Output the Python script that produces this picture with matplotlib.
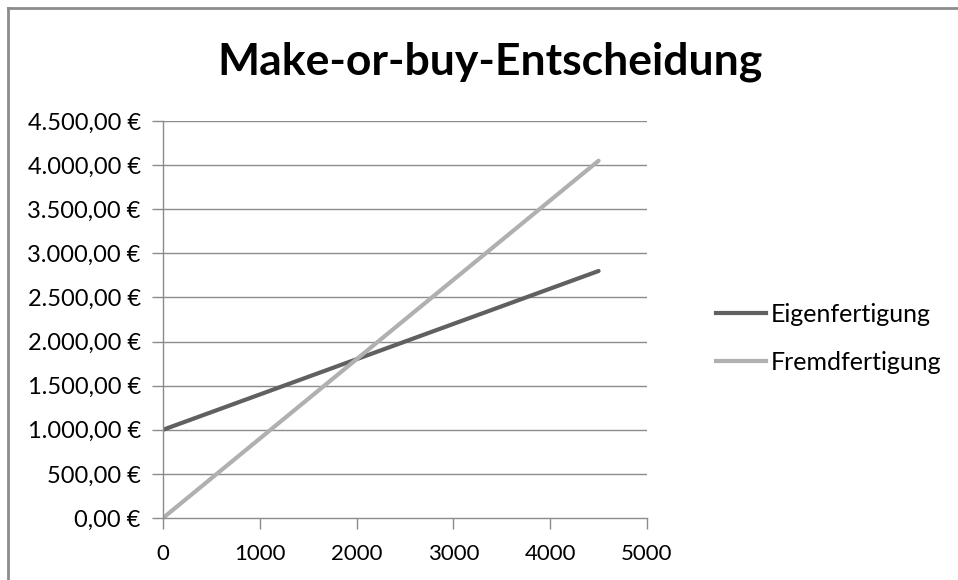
import matplotlib
matplotlib.use('Agg')
import matplotlib.pyplot as plt
from matplotlib.ticker import FuncFormatter
from matplotlib.lines import Line2D

# data: Menge vs. Kosten
menge = [0, 4500]
eigenfertigung = [1000, 2800]
fremdfertigung = [0, 4050]
y_ticks = [0, 500, 1000, 1500, 2000, 2500, 3000, 3500, 4000, 4500]
x_ticks = [0, 1000, 2000, 3000, 4000, 5000]

plt.rcParams['font.family'] = ['Lato', 'DejaVu Sans']


def euro(v, pos=None):
    s = '{:,.2f}'.format(v)
    s = s.replace(',', 'X').replace('.', ',').replace('X', '.')
    return s + ' €'


fig = plt.figure(figsize=(9.58, 5.8), dpi=100)
ax = fig.add_axes([163 / 958, 62 / 580, 484 / 958, 397 / 580])

ax.plot(menge, eigenfertigung, color='#606060', lw=3.0, label='Eigenfertigung', solid_capstyle='round')
ax.plot(menge, fremdfertigung, color='#b0b0b0', lw=3.0, label='Fremdfertigung', solid_capstyle='round')

ax.set_xlim(0, 5000)
ax.set_ylim(0, 4500)
ax.set_xticks(x_ticks)
ax.set_yticks(y_ticks)
ax.yaxis.set_major_formatter(FuncFormatter(euro))

for y in y_ticks[1:]:
    ax.axhline(y, color='#8c8c8c', lw=1, zorder=0)

for side in ['top', 'right']:
    ax.spines[side].set_visible(False)
for side in ['left', 'bottom']:
    ax.spines[side].set_color('#8c8c8c')
    ax.spines[side].set_linewidth(1)

ax.tick_params(axis='both', colors='#8c8c8c', length=8, width=1, labelcolor='black')
ax.tick_params(axis='y', pad=8, labelsize=17)
ax.tick_params(axis='x', pad=11, labelsize=16)

fig.text(490 / 958, 1 - 62 / 580, 'Make-or-buy-Entscheidung', ha='center', va='center',
         fontsize=32, fontweight='bold')

handles = [Line2D([0], [0], color='#606060', lw=3.0),
           Line2D([0], [0], color='#b0b0b0', lw=3.0)]
fig.legend(handles, ['Eigenfertigung', 'Fremdfertigung'], loc='center left',
           bbox_to_anchor=(716 / 958, 1 - 338 / 580), frameon=False, fontsize=18,
           handlelength=2.0, handletextpad=0.2, labelspacing=1.0, borderpad=0, borderaxespad=0)

# chart frame (top and left edges)
fig.add_artist(Line2D([8 / 958, 1], [1 - 8 / 580, 1 - 8 / 580], color='#8c8c8c', lw=2))
fig.add_artist(Line2D([8 / 958, 8 / 958], [0, 1 - 8 / 580], color='#8c8c8c', lw=2))

fig.savefig('out.png', dpi=100)
